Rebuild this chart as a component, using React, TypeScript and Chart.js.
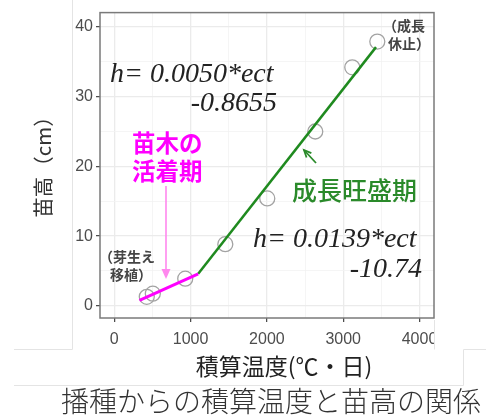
import React, { useEffect, useRef } from "react";
import { Chart, registerables } from "chart.js";

Chart.register(...registerables);

// ---- data ----
const ectValues = [426, 505, 930, 1455, 2005, 2634, 3119, 3447];
const heightValues = [1.3, 1.75, 3.9, 8.85, 15.4, 25.0, 34.2, 37.9];
const earlyLineEct = [330, 1100];
const earlyLineHeight = [0.8, 4.6];
const growthLineEct = [1100, 3430];
const growthLineHeight = [4.6, 37.1];
const xTickValues = [0, 500, 1000, 1500, 2000, 2500, 3000, 3500, 4000];
const yTickValues = [0, 5, 10, 15, 20, 25, 30, 35, 40];

const yTitle = "苗高（cm）";
const xTitle = "積算温度(℃・日)";
const caption = "播種からの積算温度と苗高の関係";
const eq1 = ["h= 0.0050*ect", "-0.8655"];
const eq2 = ["h= 0.0139*ect", "-10.74"];
const earlyLabel = ["苗木の", "活着期"];
const growthLabel = "成長旺盛期";
const sproutNote = ["（芽生え", "移植）"];
const stopNote = ["（成長", "休止）"];

const CJK = '"Noto Sans CJK JP", "Noto Sans", sans-serif';
const SERIF = '"Liberation Serif", "DejaVu Serif", serif';

const annotationPlugin = {
  id: "annotations",
  afterDraw(chart: any) {
    const ctx = chart.ctx as CanvasRenderingContext2D;
    const a = chart.chartArea;
    ctx.save();
    // white-out beyond plot right side (clipped 4000 label)
    ctx.fillStyle = "#ffffff";
    ctx.fillRect(a.right + 1, a.bottom + 1, 60, 30);

    // panel border
    ctx.strokeStyle = "#7a7a7a";
    ctx.lineWidth = 1.5;
    ctx.strokeRect(a.left, a.top, a.right - a.left, a.bottom - a.top);

    // faint frame lines
    ctx.strokeStyle = "#e4e4e4";
    ctx.lineWidth = 1;
    ctx.beginPath();
    ctx.moveTo(72.5, 0); ctx.lineTo(72.5, 349.5); ctx.lineTo(14, 349.5);
    ctx.moveTo(14, 385.5); ctx.lineTo(463.5, 385.5); ctx.lineTo(463.5, 349.5); ctx.lineTo(486, 349.5);
    ctx.moveTo(434.5, 320); ctx.lineTo(434.5, 349.5);
    ctx.stroke();

    // arrows
    const drawArrow = (x1: number, y1: number, x2: number, y2: number, color: string, w: number, head: number, filled: boolean) => {
      const ang = Math.atan2(y2 - y1, x2 - x1);
      ctx.strokeStyle = color;
      ctx.fillStyle = color;
      ctx.lineWidth = w;
      ctx.beginPath();
      ctx.moveTo(x1, y1);
      ctx.lineTo(x2 - (filled ? Math.cos(ang) * head * 0.8 : 0), y2 - (filled ? Math.sin(ang) * head * 0.8 : 0));
      ctx.stroke();
      const ha = 0.42;
      const p1x = x2 - head * Math.cos(ang - ha), p1y = y2 - head * Math.sin(ang - ha);
      const p2x = x2 - head * Math.cos(ang + ha), p2y = y2 - head * Math.sin(ang + ha);
      ctx.beginPath();
      if (filled) {
        ctx.moveTo(x2, y2); ctx.lineTo(p1x, p1y); ctx.lineTo(p2x, p2y); ctx.closePath(); ctx.fill();
      } else {
        ctx.moveTo(p1x, p1y); ctx.lineTo(x2, y2); ctx.lineTo(p2x, p2y); ctx.stroke();
      }
    };
    drawArrow(166, 186, 166, 279, "#ff88ee", 1.6, 11, true);
    drawArrow(316, 163, 304, 150, "#2a8a2a", 1.8, 8, false);

    // texts
    ctx.textBaseline = "middle";
    ctx.fillStyle = "#222";
    ctx.font = `italic 28px ${SERIF}`;
    ctx.textAlign = "left";
    ctx.fillText(eq1[0], 110, 75);
    ctx.textAlign = "right";
    ctx.fillText(eq1[1], 277, 104);
    ctx.textAlign = "left";
    ctx.fillText(eq2[0], 253, 240);
    ctx.textAlign = "right";
    ctx.fillText(eq2[1], 422, 270);

    ctx.textAlign = "left";
    ctx.fillStyle = "#ff00ff";
    ctx.font = `bold 23.5px ${CJK}`;
    ctx.fillText(earlyLabel[0], 132, 143);
    ctx.fillText(earlyLabel[1], 132, 171);

    ctx.fillStyle = "#2a8a2a";
    ctx.font = `500 25px ${CJK}`;
    ctx.fillText(growthLabel, 292, 190);

    ctx.fillStyle = "#444";
    ctx.font = `bold 14px ${CJK}`;
    ctx.fillText(sproutNote[0], 99, 257);
    ctx.fillText(sproutNote[1], 110, 275);
    ctx.fillText(stopNote[0], 383, 26);
    ctx.fillText(stopNote[1], 388, 44);

    // axis titles
    ctx.fillStyle = "#333";
    ctx.font = `20.5px ${CJK}`;
    ctx.save();
    ctx.translate(43, 162);
    ctx.rotate(-Math.PI / 2);
    ctx.textAlign = "center";
    ctx.fillText(yTitle, 0, 0);
    ctx.restore();

    ctx.fillStyle = "#222";
    ctx.font = `23px ${CJK}`;
    ctx.textAlign = "center";
    ctx.fillText(xTitle, 284, 366);

    ctx.fillStyle = "#333";
    ctx.font = `300 28px ${CJK}`;
    ctx.textAlign = "left";
    ctx.fillText(caption, 61, 401);
    ctx.restore();
  },
};

export default function App() {
  const ref = useRef<HTMLCanvasElement | null>(null);
  useEffect(() => {
    document.body.style.margin = "0";
    const canvas = ref.current;
    if (!canvas) return;
    const chart = new Chart(canvas, {
      type: "scatter",
      data: {
        datasets: [
          {
            type: "line",
            data: earlyLineEct.map((x, i) => ({ x, y: earlyLineHeight[i] })),
            borderColor: "#ff00ff",
            borderWidth: 3,
            pointRadius: 0,
            fill: false,
          } as any,
          {
            type: "line",
            data: growthLineEct.map((x, i) => ({ x, y: growthLineHeight[i] })),
            borderColor: "#1f8a1f",
            borderWidth: 2.5,
            pointRadius: 0,
            fill: false,
          } as any,
          {
            type: "scatter",
            data: ectValues.map((x, i) => ({ x, y: heightValues[i] })),
            pointRadius: 7.5,
            pointBorderWidth: 1.3,
            borderColor: "#a3a3a3",
            backgroundColor: "rgba(0,0,0,0)",
          } as any,
        ],
      },
      options: {
        animation: false,
        responsive: false,
        maintainAspectRatio: false,
        layout: { padding: { left: 0, top: 4, right: 52, bottom: 0 } },
        plugins: { legend: { display: false }, tooltip: { enabled: false } },
        scales: {
          x: {
            type: "linear",
            min: -187,
            max: 4190,
            afterBuildTicks: (axis: any) => {
              axis.ticks = xTickValues.map((v) => ({ value: v }));
            },
            afterFit: (scale: any) => {
              scale.height = 101;
            },
            border: { display: false },
            grid: {
              color: (c: any) => (c.tick && c.tick.value % 1000 === 0 ? "#ebebeb" : "#f3f3f3"),
              lineWidth: (c: any) => (c.tick && c.tick.value % 1000 === 0 ? 1.3 : 0.8),
              tickColor: (c: any) => (c.tick && c.tick.value % 1000 === 0 ? "#444" : "rgba(0,0,0,0)"),
              tickLength: 4,
              tickWidth: 1.2,
            },
            ticks: {
              autoSkip: false,
              maxRotation: 0,
              padding: 8,
              color: "#4d4d4d",
              font: { family: '"Liberation Sans", Arial, sans-serif', size: 16 },
              callback: (v: any) => (Number(v) % 1000 === 0 ? String(v) : ""),
            },
          },
          y: {
            type: "linear",
            min: -1.74,
            max: 42.05,
            afterBuildTicks: (axis: any) => {
              axis.ticks = yTickValues.map((v) => ({ value: v }));
            },
            afterFit: (scale: any) => {
              scale.width = 100;
            },
            border: { display: false },
            grid: {
              color: (c: any) => (c.tick && c.tick.value % 10 === 0 ? "#ebebeb" : "#f3f3f3"),
              lineWidth: (c: any) => (c.tick && c.tick.value % 10 === 0 ? 1.3 : 0.8),
              tickColor: (c: any) => (c.tick && c.tick.value % 10 === 0 ? "#444" : "rgba(0,0,0,0)"),
              tickLength: 4,
              tickWidth: 1.2,
            },
            ticks: {
              autoSkip: false,
              padding: 3,
              color: "#4d4d4d",
              font: { family: '"Liberation Sans", Arial, sans-serif', size: 16 },
              callback: (v: any) => (Number(v) % 10 === 0 ? String(v) : ""),
            },
          },
        },
      },
      plugins: [annotationPlugin],
    });
    return () => chart.destroy();
  }, []);
  return (
    <div style={{ position: "absolute", left: 0, top: 0, width: 486, height: 419, background: "#fff" }}>
      <canvas ref={ref} width={486} height={419} style={{ width: 486, height: 419, display: "block" }} />
    </div>
  );
}
